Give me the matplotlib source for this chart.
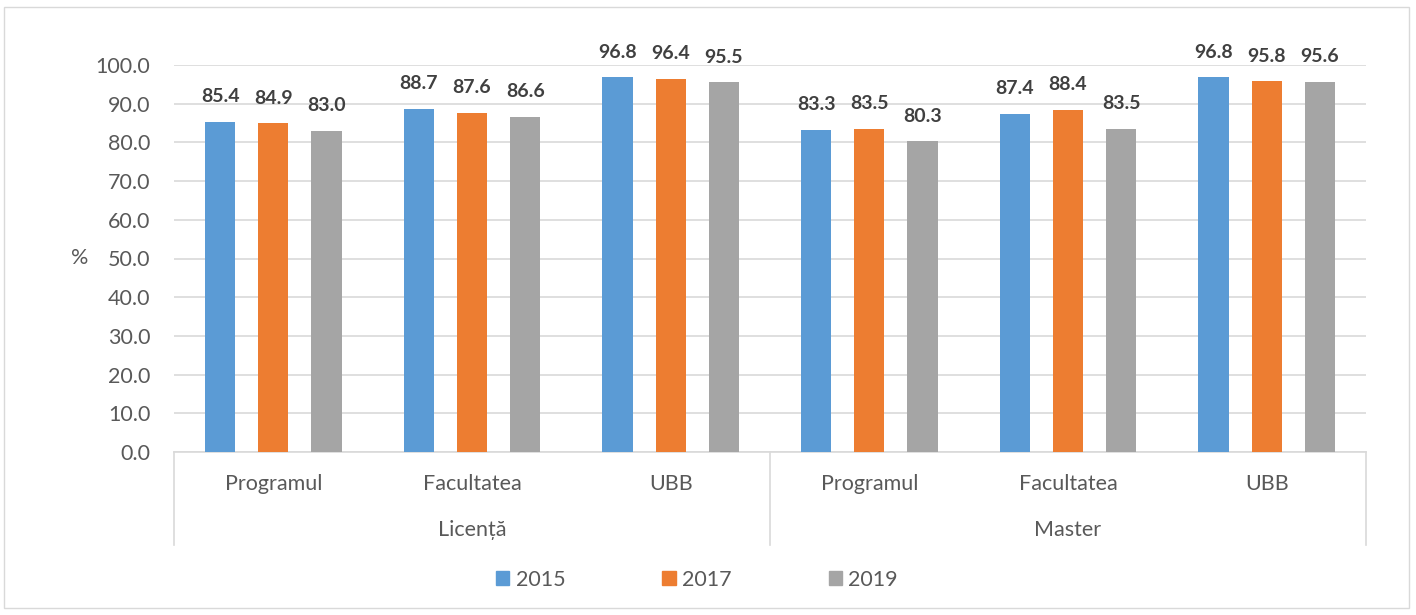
import matplotlib
matplotlib.use("Agg")
import matplotlib.pyplot as plt
import matplotlib.transforms as mtransforms
from matplotlib.patches import Rectangle
from matplotlib.lines import Line2D

plt.rcParams['font.family'] = ['Lato', 'DejaVu Sans']

categories = ["Programul", "Facultatea", "UBB", "Programul", "Facultatea", "UBB"]
groups = ["Licență", "Master"]
series_names = ["2015", "2017", "2019"]
v2015 = [85.4, 88.7, 96.8, 83.3, 87.4, 96.8]
v2017 = [84.9, 87.6, 96.4, 83.5, 88.4, 95.8]
v2019 = [83.0, 86.6, 95.5, 80.3, 83.5, 95.6]
colors = ["#5B9BD5", "#ED7D31", "#A5A5A5"]
yticks = [0, 10, 20, 30, 40, 50, 60, 70, 80, 90, 100]

W, H = 1416, 615
fig = plt.figure(figsize=(W / 100, H / 100), dpi=100)
# figure border
fig.patches.append(Rectangle((4 / W, 1 - 608 / H), (1409 - 4) / W, (608 - 7) / H,
                             transform=fig.transFigure, fill=False,
                             edgecolor="#D9D9D9", linewidth=1.0))

left, right, top, base = 174, 1366, 65, 452
ax = fig.add_axes([left / W, 1 - base / H, (right - left) / W, (base - top) / H])

txt_c = "#595959"
fs = 15.5
bw = 0.152
step = 0.268
n = len(categories)
xs = list(range(n))
grid_c = "#D9D9D9"
for j, (vals, name) in enumerate(zip([v2015, v2017, v2019], series_names)):
    pos = [x + (j - 1) * step for x in xs]
    bars = ax.bar(pos, vals, width=bw, color=colors[j], label=name, zorder=3)
    for b, v in zip(bars, vals):
        ax.annotate(f"{v:.1f}", (b.get_x() + b.get_width() / 2, v),
                    xytext=(0, 12), textcoords="offset points",
                    ha="center", va="bottom", fontsize=14, fontweight="bold",
                    color="#404040")

ax.set_xlim(-0.5, n - 0.5)
ax.set_ylim(0, 100)
ax.set_yticks(yticks)
ax.set_yticklabels([f"{t:.1f}" for t in yticks], fontsize=fs, color=txt_c)
ax.tick_params(axis="y", length=0, pad=17)
ax.set_xticks([])
ax.yaxis.grid(True, color=grid_c, linewidth=1.2, zorder=0)
for s in ["top", "right", "left"]:
    ax.spines[s].set_visible(False)
ax.spines["bottom"].set_color(grid_c)
ax.spines["bottom"].set_linewidth(1.2)
ax.set_ylabel("%", fontsize=fs, color=txt_c, rotation=0, va="center")
ax.yaxis.set_label_coords(-0.079, 0.5)

trans = mtransforms.blended_transform_factory(ax.transData, ax.transAxes)
h_ax = base - top
cat_y = -(484 - base) / h_ax
grp_y = -(530 - base) / h_ax
sep_y = -(545 - base) / h_ax
for x, c in zip(xs, categories):
    ax.text(x, cat_y, c, transform=trans, ha="center", va="center",
            fontsize=fs, color=txt_c)
per = n // len(groups)
for g, name in enumerate(groups):
    ax.text(g * per + (per - 1) / 2, grp_y, name, transform=trans, ha="center",
            va="center", fontsize=fs, color=txt_c)
for k in range(len(groups) + 1):
    xv = k * per - 0.5
    ax.add_line(Line2D([xv, xv], [0, sep_y], transform=trans, color=grid_c,
                       linewidth=1.2, clip_on=False))

handles = [Rectangle((0, 0), 1, 1, color=c) for c in colors]
fig.legend(handles, series_names, loc="center", bbox_to_anchor=(697 / W, 1 - 580 / H),
           ncol=3, frameon=False, fontsize=fs, handlelength=0.62, handleheight=0.62,
           handletextpad=0.3, columnspacing=4.5, labelcolor=txt_c)

fig.savefig("out.png", dpi=100)
